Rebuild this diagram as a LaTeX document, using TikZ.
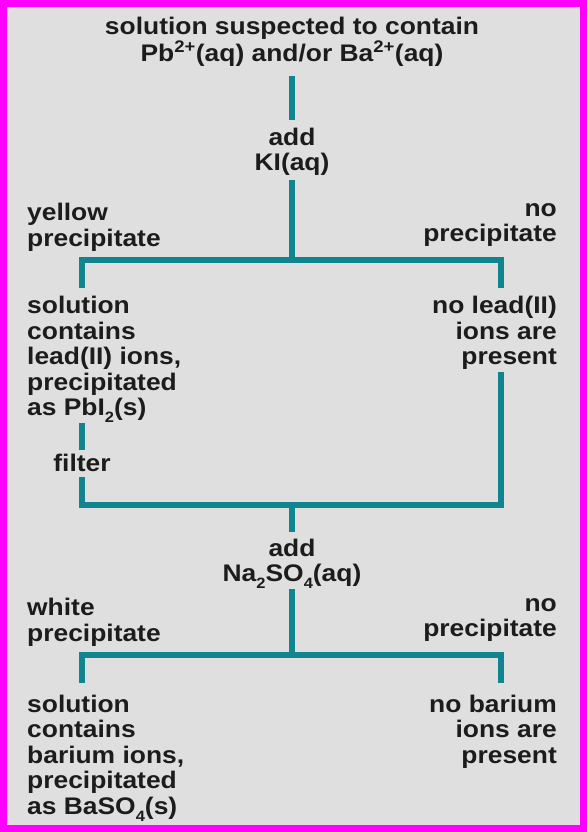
\documentclass[tikz,border=0pt]{standalone}
\usepackage{fontspec}
\setmainfont{Liberation Sans}[FakeStretch=1.1]
\definecolor{bgcol}{HTML}{DFDFDF}
\definecolor{framecol}{HTML}{FF00FF}
\definecolor{linecol}{HTML}{11858F}
\definecolor{textcol}{HTML}{1C1C1C}
\newcommand{\chemsub}[1]{\raisebox{-0.3em}{\fontsize{15}{15}\selectfont #1}}
\tikzset{
  txt/.style={font=\bfseries\fontsize{24}{25.5}\selectfont, text=textcol, inner sep=0pt, execute at begin node=\strut},
  lft/.style={txt, align=left, anchor=north west},
  rgt/.style={txt, align=right, anchor=north east},
  ctr/.style={txt, align=center, anchor=north},
  link/.style={draw=linecol, line width=6.5pt, line join=miter, line cap=butt}
}
\begin{document}
\begin{tikzpicture}[x=1pt,y=-1pt]
\useasboundingbox (0,0) rectangle (587,832);
\fill[bgcol] (0,0) rectangle (587,832);
\draw[framecol, line width=7pt] (3.5,3.5) rectangle (583.5,828.5);

% texts
\node[ctr, font=\bfseries\fontsize{24}{27}\selectfont] (hdr) at (292,16.6) {solution suspected to contain\\Pb\textsuperscript{2+}(aq) and/or Ba\textsuperscript{2+}(aq)};
\node[ctr] (add1) at (292,127.7) {add\\KI(aq)};
\node[lft] (yel) at (27,203.2) {yellow\\precipitate};
\node[rgt] (nop1) at (557,203.2) {no\\precipitate};
\node[lft] (leadyes) at (27,296.2) {solution\\contains\\lead(II) ions,\\precipitated\\as PbI\chemsub{2}(s)};
\node[rgt] (leadno) at (557,296.2) {no lead(II)\\ions are\\present};
\node[ctr] (filt) at (82,453.7) {filter};
\node[ctr] (add2) at (292,538.7) {add\\Na\chemsub{2}SO\chemsub{4}(aq)};
\node[lft] (wht) at (27,598.2) {white\\precipitate};
\node[rgt] (nop2) at (557,598.2) {no\\precipitate};
\node[lft] (bayes) at (27,694.7) {solution\\contains\\barium ions,\\precipitated\\as BaSO\chemsub{4}(s)};
\node[rgt] (bano) at (557,694.7) {no barium\\ions are\\present};

% junction coordinates
\coordinate (t1) at (292,76);
\coordinate (t2) at (292,120);
\coordinate (k1) at (292,180);
\coordinate (j1) at (292,260);
\coordinate (j1l) at (82,260);
\coordinate (j1r) at (501,260);
\coordinate (e1l) at (82,288);
\coordinate (e1r) at (501,288);
\coordinate (f1) at (82,423);
\coordinate (f2) at (82,450);
\coordinate (f3) at (82,477);
\coordinate (m1l) at (82,505);
\coordinate (m1r) at (501,505);
\coordinate (r1) at (501,372);
\coordinate (m1) at (292,505);
\coordinate (m2) at (292,532);
\coordinate (n1) at (292,589);
\coordinate (j2) at (292,655);
\coordinate (j2l) at (82,655);
\coordinate (j2r) at (501,655);
\coordinate (e2l) at (82,683);
\coordinate (e2r) at (501,683);

% connectors
\draw[link] (t1) -- (t2);
\draw[link] (k1) -- (j1);
\draw[link] (e1l) -- (j1l) -- (j1r) -- (e1r);
\draw[link] (f1) -- (f2);
\draw[link] (f3) -- (m1l) -- (m1r) -- (r1);
\draw[link] (m1) -- (m2);
\draw[link] (n1) -- (j2);
\draw[link] (e2l) -- (j2l) -- (j2r) -- (e2r);
\end{tikzpicture}
\end{document}
